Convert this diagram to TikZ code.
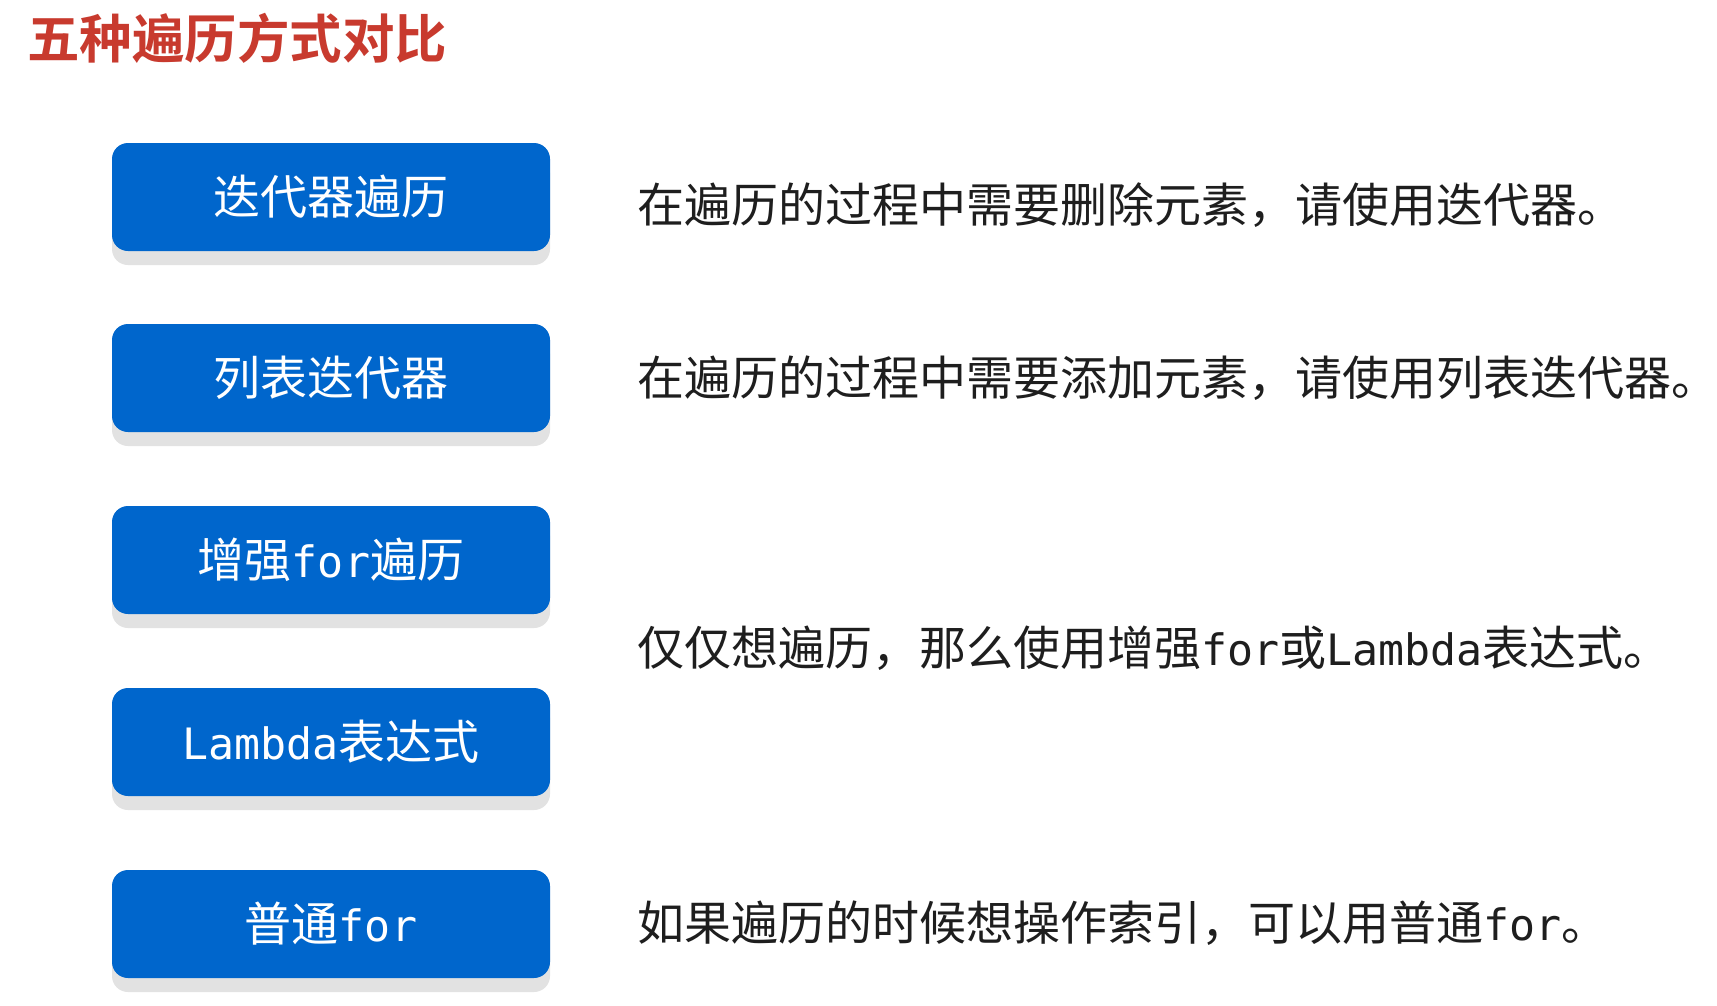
\documentclass[tikz,border=0pt]{standalone}
\usepackage{fontspec}
\setmainfont{Noto Sans CJK SC}
\newfontfamily\cjkb{Noto Sans CJK SC Bold}
\newfontfamily\lat[Scale=0.92]{DejaVu Sans Mono}
\usetikzlibrary{shadows}
\definecolor{boxblue}{HTML}{0066CC}
\definecolor{titlered}{HTML}{C83A2E}
\definecolor{shadowgray}{HTML}{E2E2E2}
\definecolor{txt}{HTML}{1E1E1E}
\tikzset{
  btn/.style={rounded corners=16pt, fill=boxblue, text=white, minimum width=438pt, minimum height=108pt,
    inner sep=0pt, font=\fontsize{47}{56}\selectfont,
    drop shadow={shadow xshift=0pt, shadow yshift=-14pt, fill=shadowgray, opacity=1}},
  desc/.style={anchor=west, inner sep=0pt, text=txt, font=\fontsize{47}{56}\selectfont},
  ttl/.style={anchor=west, inner sep=0pt, text=titlered, font=\cjkb\fontsize{52.5}{63}\selectfont}
}
\begin{document}
\begin{tikzpicture}[x=1pt,y=-1pt]
\useasboundingbox[fill=white] (0,0) rectangle (1717,1005);
\node[ttl] (title) at (27,38) {五种遍历方式对比};
\node[btn] (b1) at (331,197) {迭代器遍历};
\node[btn] (b2) at (331,378) {列表迭代器};
\node[btn] (b3) at (331,560) {增强{\lat for}遍历};
\node[btn] (b4) at (331,742) {{\lat Lambda}表达式};
\node[btn] (b5) at (331,924) {普通{\lat for}};
\node[desc] (d1) at (637,205) {在遍历的过程中需要删除元素，请使用迭代器。};
\node[desc] (d2) at (637,378) {在遍历的过程中需要添加元素，请使用列表迭代器。};
\node[desc] (d3) at (637,648) {仅仅想遍历，那么使用增强{\lat for}或{\lat Lambda}表达式。};
\node[desc] (d4) at (637,923) {如果遍历的时候想操作索引，可以用普通{\lat for}。};
\end{tikzpicture}
\end{document}
